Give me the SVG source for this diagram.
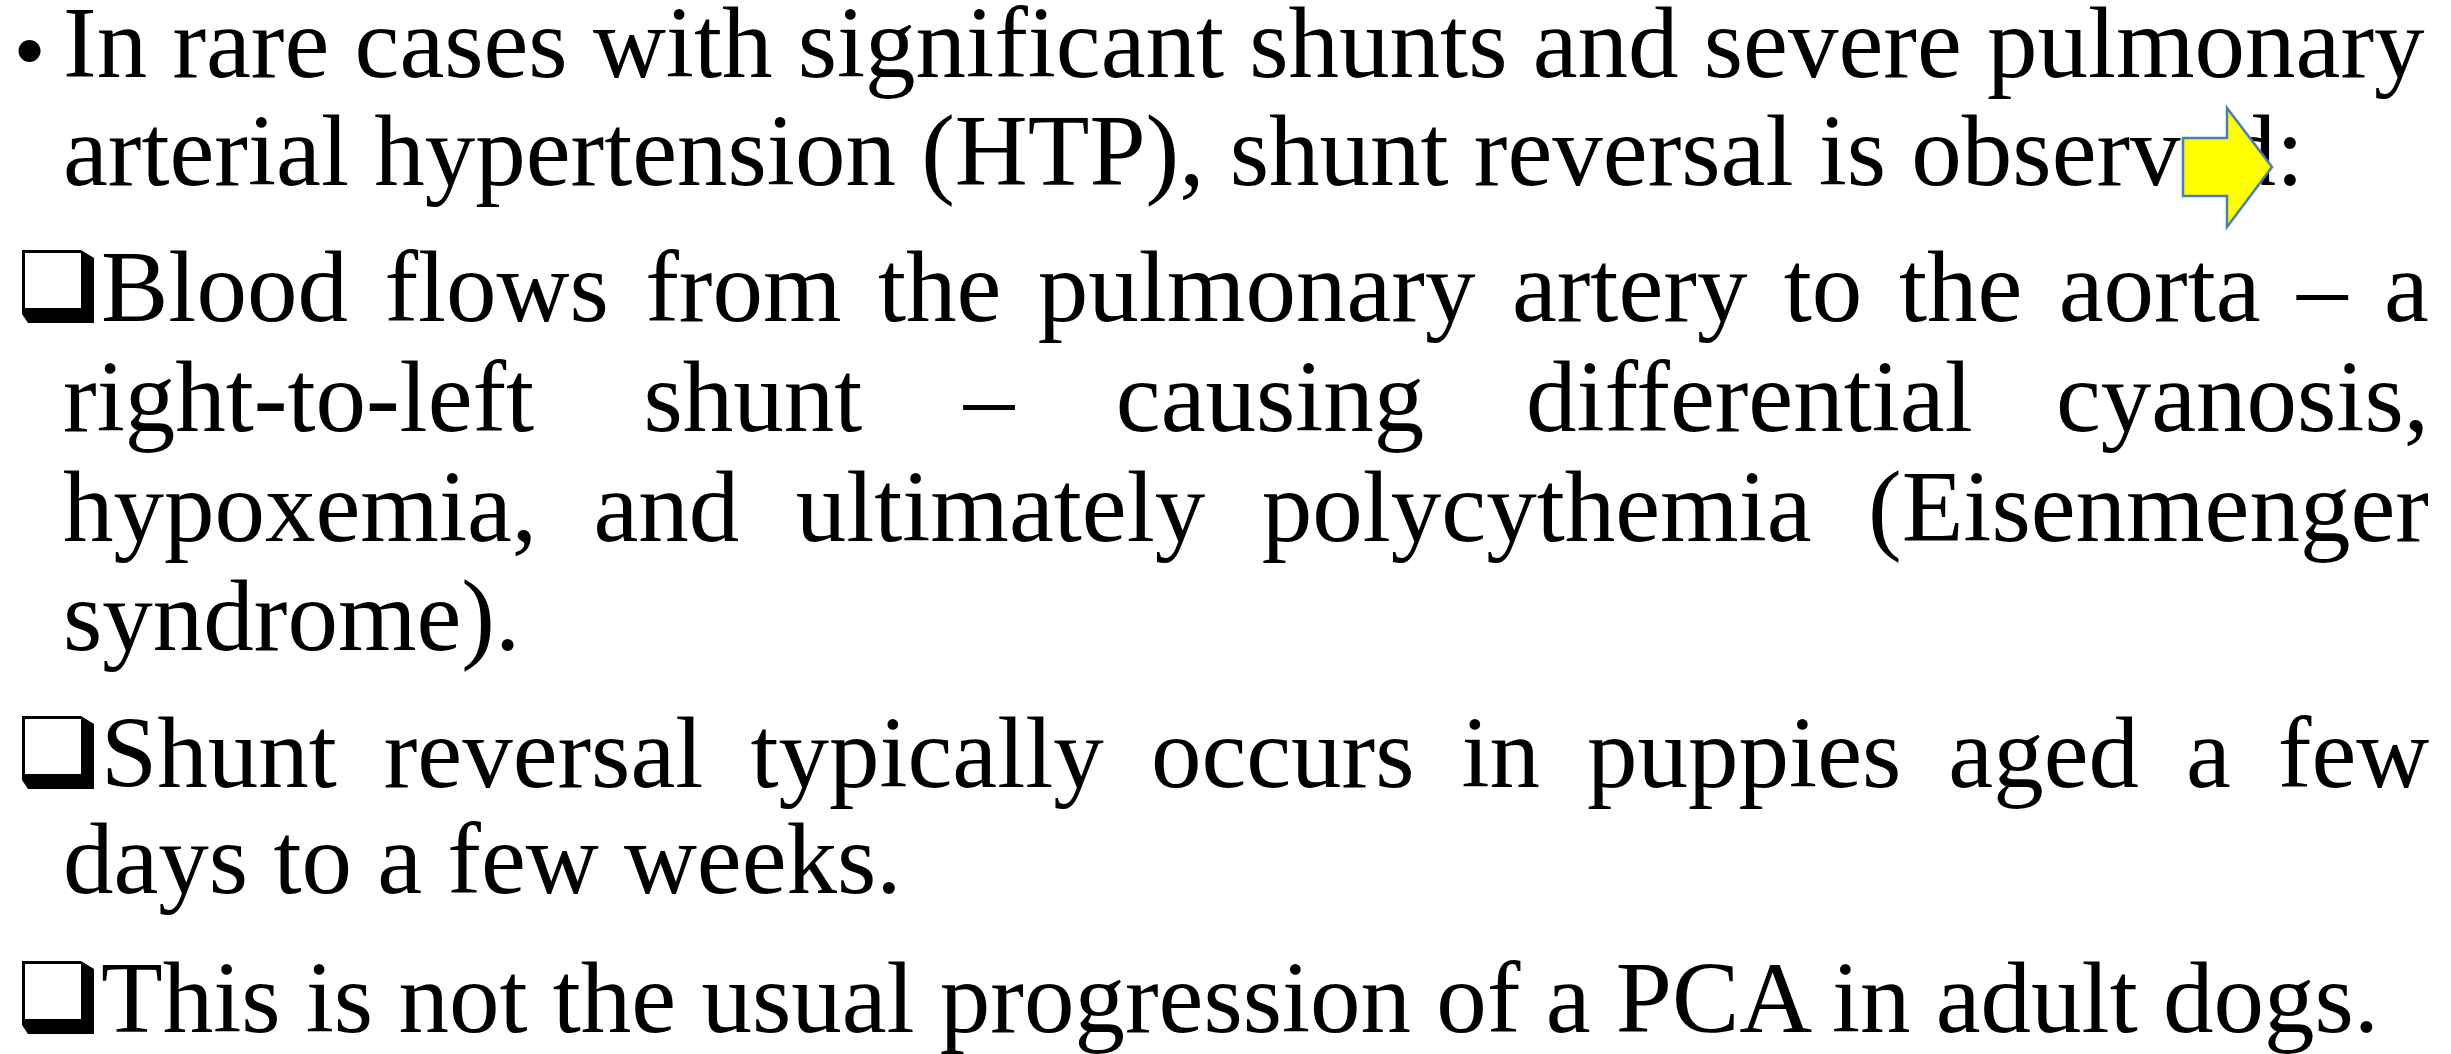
<svg xmlns="http://www.w3.org/2000/svg" width="2451" height="1054" viewBox="0 0 2451 1054">
<style>
.t{font-family:"Liberation Serif","Times New Roman",serif;font-size:101px;fill:#000}
.arrow{fill:#FFFF00;stroke:#4A7EBB;stroke-width:2.5;stroke-linejoin:miter}
</style>
<defs>
<g id="qbox">
<path d="M0,0 H59 L72,8 V73 H6 L0,64 Z" fill="#000"/>
<rect x="3" y="3" width="56" height="55" fill="#fff"/>
</g>
</defs>
<rect width="2451" height="1054" fill="#fff"/>
<g id="markers">
<circle cx="29.5" cy="51" r="11" fill="#000"/>
<use href="#qbox" x="22" y="250"/>
<use href="#qbox" x="22" y="716"/>
<use href="#qbox" x="22" y="961"/>
</g>
<g id="text">
<text class="t" x="63" y="77">In rare cases with significant shunts and severe pulmonary</text>
<text class="t" x="63" y="185">arterial hypertension (HTP), shunt reversal is observed:</text>
<text class="t" y="321"><tspan x="101">Blood</tspan><tspan x="384.4">flows</tspan><tspan x="645.2">from</tspan><tspan x="878">the</tspan><tspan x="1037.8">pulmonary</tspan><tspan x="1511.9">artery</tspan><tspan x="1783.8">to</tspan><tspan x="1898.9">the</tspan><tspan x="2058.7">aorta</tspan><tspan x="2297">–</tspan><tspan x="2384">a</tspan></text>
<text class="t" y="431"><tspan x="63">right-to-left</tspan><tspan x="643.4">shunt</tspan><tspan x="963.8">–</tspan><tspan x="1115.8">causing</tspan><tspan x="1525.9">differential</tspan><tspan x="2055.9">cyanosis,</tspan></text>
<text class="t" y="541"><tspan x="63">hypoxemia,</tspan><tspan x="593.5">and</tspan><tspan x="795.7">ultimately</tspan><tspan x="1261.8">polycythemia</tspan><tspan x="1868">(Eisenmenger</tspan></text>
<text class="t" x="63" y="650">syndrome).</text>
<text class="t" y="787"><tspan x="101">Shunt</tspan><tspan x="383.7">reversal</tspan><tspan x="750.4">typically</tspan><tspan x="1150.9">occurs</tspan><tspan x="1461.5">in</tspan><tspan x="1587.1">puppies</tspan><tspan x="1948.3">aged</tspan><tspan x="2186">a</tspan><tspan x="2277.8">few</tspan></text>
<text class="t" x="63" y="893">days to a few weeks.</text>
<text class="t" x="101" y="1032">This is not the usual progression of a PCA in adult dogs.</text>
</g>
<g id="arrow-shape">
<polygon class="arrow" points="2183,138 2227,138 2227,108 2272,167 2227,227 2227,196 2183,196"/>
</g>
</svg>
